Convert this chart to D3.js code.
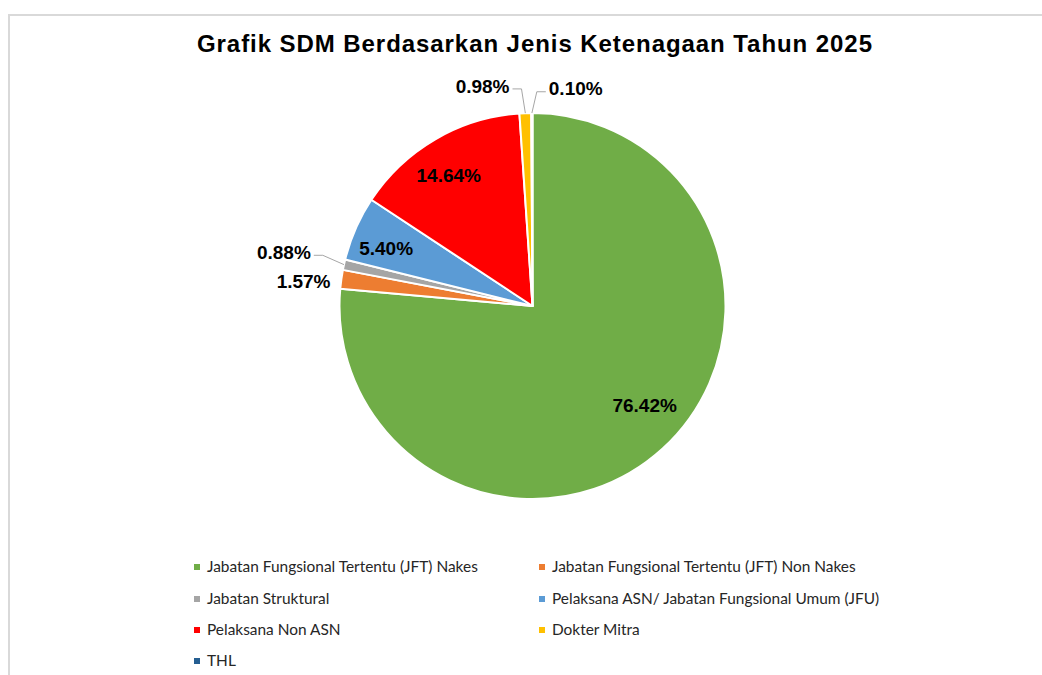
<!DOCTYPE html>
<html>
<head>
<meta charset="utf-8">
<script src="https://cdn.jsdelivr.net/npm/d3@7"></script>
<style>
  body { margin: 0; background: #fff; }
  .title { font-family: "Liberation Sans", Arial, sans-serif; font-weight: bold; }
  .pct { font-family: "Liberation Sans", Arial, sans-serif; font-weight: bold; font-size: 19px; fill: #000; }
  .legend-text { font-family: Lato, "Open Sans", sans-serif; fill: #262626; }
</style>
</head>
<body>
<div id="chart"></div>
<script>
(function () {
  /* ----------------------- Data ----------------------- */
  const categories = [
    "Jabatan Fungsional Tertentu (JFT) Nakes",
    "Jabatan Fungsional Tertentu (JFT) Non Nakes",
    "Jabatan Struktural",
    "Pelaksana ASN/ Jabatan Fungsional Umum (JFU)",
    "Pelaksana Non ASN",
    "Dokter Mitra",
    "THL",
  ];
  const percentages = [76.42, 1.57, 0.88, 5.40, 14.64, 0.98, 0.10];
  const colors = ["#70ad47", "#ed7d31", "#a5a5a5", "#5b9bd5", "#ff0000", "#ffc000", "#255e91"];
  const titleText = "Grafik SDM Berdasarkan Jenis Ketenagaan Tahun 2025";

  /* ----------------------- Layout ----------------------- */
  const W = 1042, H = 675;
  const cx = 532.5, cy = 306, radius = 193;

  // label placement: inside labels at 0.8r, small slices pushed outside (Excel style)
  const outside = [false, true, true, false, false, true, true];
  const nudge = [[8, -15], [10, 9], [-13, -2], [-5, 4], [-6, 3], [-41, 21], [44, 24]];
  const leader = [false, false, true, false, false, true, true];

  const svg = d3.select("#chart")
    .append("svg")
    .attr("width", W)
    .attr("height", H);

  // chart frame
  svg.append("rect")
    .attr("x", 9).attr("y", 15)
    .attr("width", W + 20).attr("height", H + 20)
    .attr("fill", "#fff")
    .attr("stroke", "#d9d9d9")
    .attr("stroke-width", 2);

  // title
  const title = svg.append("text")
    .attr("class", "title")
    .attr("x", 534.5)
    .attr("y", 52)
    .attr("text-anchor", "middle")
    .attr("font-size", 24)
    .text(titleText);
  // stretch only if narrower than reference width
  if (title.node().getComputedTextLength() < 675) {
    title.attr("textLength", 675).attr("lengthAdjust", "spacing");
  }

  /* ----------------------- Pie ----------------------- */
  const data = categories.map((c, i) => ({ name: c, value: percentages[i], i }));
  const pie = d3.pie().sort(null).value(d => d.value);
  const arcs = pie(data);
  const color = d3.scaleOrdinal().domain(categories).range(colors);

  const arc = d3.arc().innerRadius(0).outerRadius(radius);
  const inLabelArc = d3.arc().innerRadius(radius * 0.8).outerRadius(radius * 0.8);
  const outLabelArc = d3.arc().innerRadius(radius * 1.25).outerRadius(radius * 1.25);
  const edgeArc = d3.arc().innerRadius(radius).outerRadius(radius);

  const g = svg.append("g").attr("transform", `translate(${cx},${cy})`);

  g.selectAll("path.slice")
    .data(arcs)
    .join("path")
    .attr("class", "slice")
    .attr("d", arc)
    .attr("fill", d => color(d.data.name))
    .attr("stroke", "#fff")
    .attr("stroke-width", 2)
    .attr("stroke-linejoin", "round");

  const labelPos = d => {
    const i = d.data.i;
    const c = outside[i] ? outLabelArc.centroid(d) : inLabelArc.centroid(d);
    return [c[0] + nudge[i][0], c[1] + nudge[i][1]];
  };

  const labels = g.selectAll("text.pct")
    .data(arcs)
    .join("text")
    .attr("class", "pct")
    .attr("x", d => labelPos(d)[0])
    .attr("y", d => labelPos(d)[1])
    .attr("dy", "0.35em")
    .attr("text-anchor", "middle")
    .text(d => d.data.value.toFixed(2) + "%");

  // leader lines for the small outside labels
  labels.each(function (d) {
    const i = d.data.i;
    if (!leader[i]) return;
    const p = labelPos(d);
    const half = this.getComputedTextLength() / 2;
    const target = edgeArc.centroid(d);
    const dir = target[0] > p[0] ? 1 : -1;
    const start = [p[0] + dir * (half + 3), p[1] + 3];
    const elbow = [start[0] + dir * 9, start[1]];
    g.append("path")
      .attr("d", d3.line()([start, elbow, target]))
      .attr("fill", "none")
      .attr("stroke", "#a6a6a6")
      .attr("stroke-width", 1);
  });

  /* ----------------------- Legend ----------------------- */
  const colX = [194, 539];
  const rowY = [567, 599, 630, 661];
  const legend = svg.append("g");

  const items = legend.selectAll("g.item")
    .data(data)
    .join("g")
    .attr("class", "item")
    .attr("transform", (d, i) => `translate(${colX[i % 2]},${rowY[Math.floor(i / 2)]})`);

  items.append("rect")
    .attr("x", 0).attr("y", -3)
    .attr("width", 6).attr("height", 6)
    .attr("fill", d => color(d.name));

  const texts = items.append("text")
    .attr("class", "legend-text")
    .attr("x", 13)
    .attr("dy", "0.35em")
    .attr("font-size", 14)
    .text(d => d.name);

  // fit legend font to the reference width of the first entry
  const w0 = texts.node().getComputedTextLength();
  texts.attr("font-size", 14 * 271 / w0);
})();
</script>
</body>
</html>
